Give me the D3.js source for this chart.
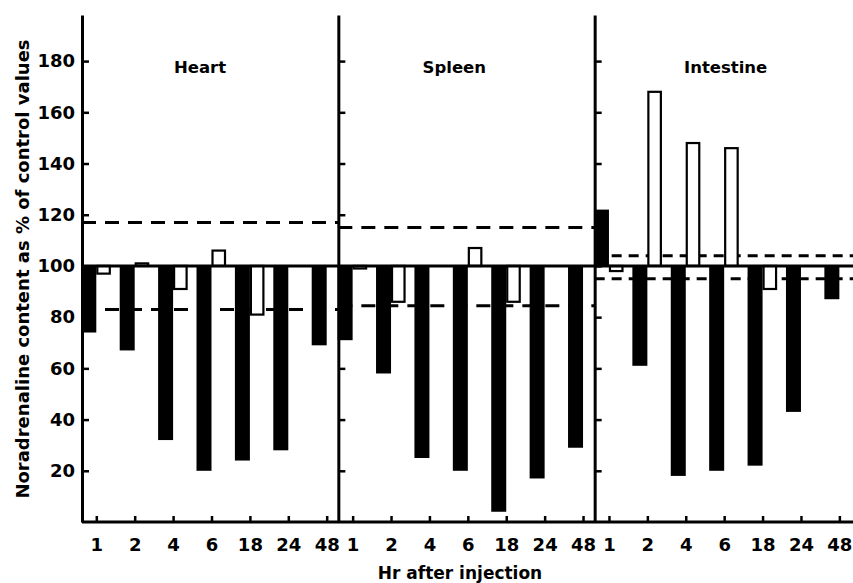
<!DOCTYPE html>
<html>
<head>
<meta charset="utf-8">
<script src="https://cdn.jsdelivr.net/npm/d3@7/dist/d3.min.js"></script>
<style>
    body { margin: 0; background: #fff; }
    text { font-family: "DejaVu Sans", sans-serif; font-weight: bold; fill: #000; }
</style>
</head>
<body>
<script>
(function () {
    "use strict";

    // categories
    var panels = ["Heart", "Spleen", "Intestine"];
    var hours = ["1", "2", "4", "6", "18", "24", "48"];
    var yTicks = [20, 40, 60, 80, 100, 120, 140, 160, 180];

    // filled bars (% of control)
    var heartFilled = [74, 67, 32, 20, 24, 28, 69];
    var spleenFilled = [71, 58, 25, 20, 4, 17, 29];
    var intestineFilled = [122, 61, 18, 20, 22, 43, 87];

    // open bars (% of control), null = no bar
    var heartOpen = [97, 101, 91, 106, 81, null, null];
    var spleenOpen = [99, 86, null, 107, 86, null, null];
    var intestineOpen = [98, 168, 148, 146, 91, null, null];

    // control range limits per panel
    var upperLimits = [117, 115, 104];
    var lowerLimits = [83, 84.5, 95];

    var filled = [heartFilled, spleenFilled, intestineFilled];
    var open = [heartOpen, spleenOpen, intestineOpen];

    /*
     * LAYOUT
     */
    var width = 853, height = 583;
    var plotLeft = 82, plotRight = 853;
    var barWidth = 15, openWidth = 12.5;
    var titleOffset = [118, 116, 131];
    var dashes = ["14,9", "14,9", "10,7"];

    var svg = d3.select("body").append("svg")
        .attr("width", width)
        .attr("height", height);

    svg.append("rect")
        .attr("width", width)
        .attr("height", height)
        .attr("fill", "white");

    var y = d3.scaleLinear().domain([0, 198]).range([522, 15]);

    var panelX = d3.scaleBand().domain(panels).range([plotLeft, 851]);

    var hourX = d3.scalePoint().domain(hours)
        .range([14.3, 14.3 + 6 * 38.4]);

    // left axis with labels, ticks pointing inward
    svg.append("g")
        .attr("transform", "translate(" + plotLeft + ",0)")
        .call(d3.axisLeft(y).tickValues(yTicks).tickSizeInner(-7)
            .tickSizeOuter(0).tickPadding(7))
        .call(function (g) {
            g.select(".domain").attr("stroke-width", 3);
            g.selectAll(".tick line").attr("stroke-width", 2.5);
            g.selectAll(".tick text")
                .attr("font-size", 18)
                .attr("font-family", "DejaVu Sans")
                .attr("font-weight", "bold");
        });

    // y label
    svg.append("text")
        .attr("transform", "translate(28.5," + 269 + ") rotate(-90)")
        .attr("text-anchor", "middle")
        .attr("font-size", 18)
        .text("Noradrenaline content as % of control values");

    panels.forEach(function (name, p) {
        var x0 = panelX(name);
        var pw = panelX.bandwidth();
        var g = svg.append("g")
            .attr("transform", "translate(" + x0 + ",0)");

        // divider with inward ticks
        if (p > 0) {
            g.append("g")
                .call(d3.axisRight(y).tickValues(yTicks).tickSize(7)
                    .tickSizeOuter(0).tickFormat(""))
                .call(function (a) {
                    a.select(".domain").attr("stroke-width", 3);
                    a.selectAll(".tick line").attr("stroke-width", 2.5);
                });
        }

        // hour axis
        g.append("g")
            .attr("transform", "translate(0," + y(0) + ")")
            .call(d3.axisBottom(hourX).tickSizeInner(-6).tickSizeOuter(0)
                .tickPadding(16))
            .call(function (a) {
                a.select(".domain").remove();
                a.selectAll(".tick line").attr("stroke-width", 2.5);
                a.selectAll(".tick text")
                    .attr("font-size", 18)
                    .attr("font-family", "DejaVu Sans")
                    .attr("font-weight", "bold");
            });

        // control range lines
        var right = p === panels.length - 1 ? plotRight - x0 : pw;
        [upperLimits[p], lowerLimits[p]].forEach(function (v) {
            g.append("line")
                .attr("x1", 0)
                .attr("x2", right)
                .attr("y1", y(v))
                .attr("y2", y(v))
                .attr("stroke", "black")
                .attr("stroke-width", 3)
                .attr("stroke-dasharray", dashes[p]);
        });

        // filled bars
        g.selectAll("rect.filled")
            .data(filled[p])
            .enter().append("rect")
            .attr("class", "filled")
            .attr("x", function (d, i) { return hourX(hours[i]) - barWidth; })
            .attr("width", barWidth)
            .attr("y", function (d) { return y(Math.max(d, 100)); })
            .attr("height", function (d) { return Math.abs(y(d) - y(100)); })
            .attr("fill", "black");

        // open bars
        g.selectAll("rect.open")
            .data(open[p].map(function (v, i) { return {v: v, h: hours[i]}; })
                .filter(function (d) { return d.v != null; }))
            .enter().append("rect")
            .attr("class", "open")
            .attr("x", function (d) { return hourX(d.h) + 1; })
            .attr("width", openWidth)
            .attr("y", function (d) { return y(Math.max(d.v, 100)); })
            .attr("height", function (d) { return Math.abs(y(d.v) - y(100)); })
            .attr("fill", "white")
            .attr("stroke", "black")
            .attr("stroke-width", 2.2);

        // panel title
        g.append("text")
            .attr("x", titleOffset[p])
            .attr("y", 72.5)
            .attr("text-anchor", "middle")
            .attr("font-size", 16.5)
            .text(name);
    });

    // control level and baseline
    [100, 0].forEach(function (v) {
        svg.append("line")
            .attr("x1", plotLeft)
            .attr("x2", plotRight)
            .attr("y1", y(v))
            .attr("y2", y(v))
            .attr("stroke", "black")
            .attr("stroke-width", 3);
    });

    // x label
    svg.append("text")
        .attr("x", 460)
        .attr("y", 579)
        .attr("text-anchor", "middle")
        .attr("font-size", 17)
        .text("Hr after injection");
})();
</script>
</body>
</html>
